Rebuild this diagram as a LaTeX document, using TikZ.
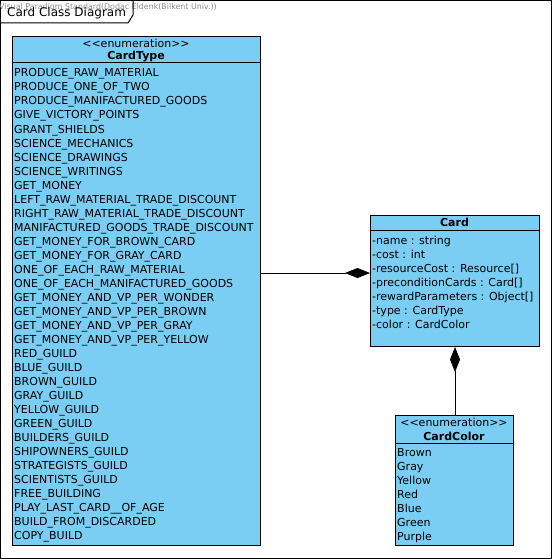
\documentclass[tikz,border=0pt]{standalone}
\usepackage{fontspec}
\setmainfont{DejaVu Sans}
\usetikzlibrary{arrows.meta}
\definecolor{umlblue}{RGB}{122,206,244}
\tikzset{
  x=1pt,y=-1pt,
  classbox/.style={draw=black,line width=1pt,fill=umlblue,rectangle,inner sep=0pt,anchor=north west},
  sep/.style={line width=1pt},
  item/.style={anchor=base west,inner sep=0pt,font=\fontsize{11}{14}\selectfont},
  head/.style={anchor=base,inner sep=0pt,font=\fontsize{11}{14}\selectfont},
  headb/.style={anchor=base,inner sep=0pt,font=\fontsize{11}{14}\selectfont\bfseries},
  comp/.style={line width=1pt,{Diamond[length=25pt,width=10pt]}-},
  frame/.style={line width=1pt},
}
\begin{document}
\begin{tikzpicture}
\useasboundingbox (0,0) rectangle (552,559);
% frame
\draw[frame] (0.5,0.5) rectangle (551,558);
% watermark
\node[anchor=base west,inner sep=0pt,text=black!45,font=\fontsize{7.9}{8}\selectfont] (wm) at (-1,9.5) {Visual Paradigm Standard(Dodac Eldenk(Bilkent Univ.))};
% tab
\draw[frame] (0.5,23) -- (128,23) -- (133,15) -- (133,0.5);
\node[anchor=base west,inner sep=0pt,font=\fontsize{12}{14}\selectfont] (title) at (7,16.5) {Card Class Diagram};

% CardType
\node[classbox,minimum width=248pt,minimum height=509pt] (cardtype) at (12,36) {};
\draw[sep] (12,63) -- (260,63);
\node[head] (ctst) at (136,48) {{<}{<}enumeration{>}{>}};
\node[headb] (ctname) at (136,60) {CardType};
\foreach \t [count=\i from 0] in {PRODUCE\_RAW\_MATERIAL,PRODUCE\_ONE\_OF\_TWO,PRODUCE\_MANIFACTURED\_GOODS,GIVE\_VICTORY\_POINTS,GRANT\_SHIELDS,SCIENCE\_MECHANICS,SCIENCE\_DRAWINGS,SCIENCE\_WRITINGS,GET\_MONEY,LEFT\_RAW\_MATERIAL\_TRADE\_DISCOUNT,RIGHT\_RAW\_MATERIAL\_TRADE\_DISCOUNT,MANIFACTURED\_GOODS\_TRADE\_DISCOUNT,GET\_MONEY\_FOR\_BROWN\_CARD,GET\_MONEY\_FOR\_GRAY\_CARD,ONE\_OF\_EACH\_RAW\_MATERIAL,ONE\_OF\_EACH\_MANIFACTURED\_GOODS,GET\_MONEY\_AND\_VP\_PER\_WONDER,GET\_MONEY\_AND\_VP\_PER\_BROWN,GET\_MONEY\_AND\_VP\_PER\_GRAY,GET\_MONEY\_AND\_VP\_PER\_YELLOW,RED\_GUILD,BLUE\_GUILD,BROWN\_GUILD,GRAY\_GUILD,YELLOW\_GUILD,GREEN\_GUILD,BUILDERS\_GUILD,SHIPOWNERS\_GUILD,STRATEGISTS\_GUILD,SCIENTISTS\_GUILD,FREE\_BUILDING,PLAY\_LAST\_CARD\_\_OF\_AGE,BUILD\_FROM\_DISCARDED,COPY\_BUILD}
  \node[item] (ct\i) at (14,{77+14*\i}) {\t};

% Card
\node[classbox,minimum width=169pt,minimum height=131pt] (card) at (370,215) {};
\draw[sep] (370,230) -- (539,230);
\node[headb] (cname) at (454.5,226) {Card};
\foreach \t [count=\i from 0] in {-name : string,-cost : int,{-resourceCost : Resource[]},{-preconditionCards : Card[]},{-rewardParameters : Object[]},-type : CardType,-color : CardColor}
  \node[item] (c\i) at (372,{244+14*\i}) {\t};

% CardColor
\node[classbox,minimum width=118pt,minimum height=130pt] (cardcolor) at (395,415) {};
\draw[sep] (395,443) -- (513,443);
\node[head] (ccst) at (454,426) {{<}{<}enumeration{>}{>}};
\node[headb] (ccname) at (454,440) {CardColor};
\foreach \t [count=\i from 0] in {Brown,Gray,Yellow,Red,Blue,Green,Purple}
  \node[item] (cc\i) at (397,{456+14*\i}) {\t};

% connectors
\coordinate (h) at (0,273);
\coordinate (v) at (455,0);
\draw[comp] (card.west |- h) -- (cardtype.east |- h);
\draw[comp] (card.south -| v) -- (cardcolor.north -| v);
\end{tikzpicture}
\end{document}
